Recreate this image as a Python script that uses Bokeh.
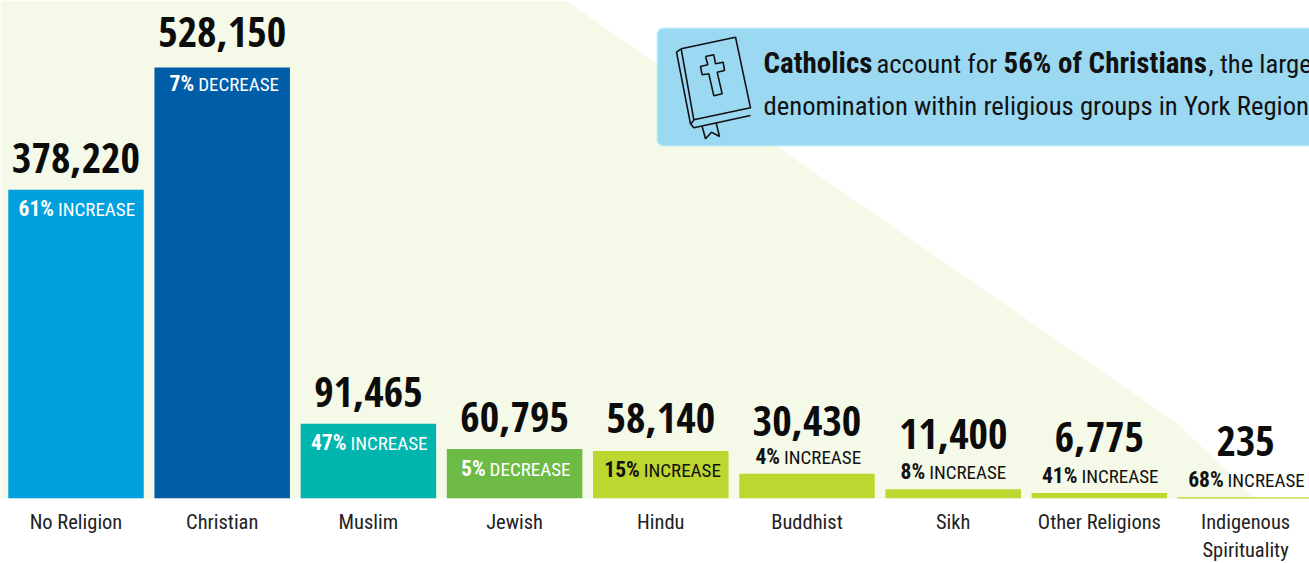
from bokeh.plotting import figure
from bokeh.models import ColumnDataSource, Range1d, FixedTicker, PolyAnnotation, BoxAnnotation
from bokeh.core.properties import value
from bokeh.embed import file_html
from bokeh.resources import INLINE

categories = ["No Religion", "Christian", "Muslim", "Jewish", "Hindu", "Buddhist", "Sikh", "Other Religions", "Indigenous\nSpirituality"]
counts = [378220, 528150, 91465, 60795, 58140, 30430, 11400, 6775, 235]
count_labels = ["378,220", "528,150", "91,465", "60,795", "58,140", "30,430", "11,400", "6,775", "235"]
pct_labels = ["61%", "7%", "47%", "5%", "15%", "4%", "8%", "41%", "68%"]
change_labels = ["INCREASE", "DECREASE", "INCREASE", "DECREASE", "INCREASE", "INCREASE", "INCREASE", "INCREASE", "INCREASE"]
bar_colors = ["#00a0df", "#005da8", "#00b5ad", "#6dbb45", "#bed630", "#bed630", "#bed630", "#bed630", "#bed630"]
note_line1 = ["Catholics", "account for", "56% of Christians", ", the largest"]
note_line2 = "denomination within religious groups in York Region"

# layout (pixels)
W, H = 1309, 563
BASE = 498
PITCH = 146.2
X0 = 75.5
UNITS = 528150 / 431
FONT = "Roboto Condensed"
BIG = "Open Sans Condensed"
def dx(px): return (px - X0) / PITCH
def dy(py): return (BASE - py) * UNITS
idx = list(range(len(categories)))
value_off = [17, 20, 17, 17, 18, 38, 40, 41, 42]
sub_off = [-26, -24, -26, -27, -26, 9, 10, 10, 11]
split_off = [-20, -26, -20, -27, -19, -25, -26, -20, -20]
sub_colors = ["#ffffff"] * 4 + ["#111111"] * 5
# the svg text sits about 0.36 em below the requested baseline
SHIFT = 0.36
VAL_PX, PCT_PX, CHG_PX, NB_PX, NR_PX = 42, 21.5, 19, 29, 26.7

p = figure(width=W, height=H, frame_width=W, frame_height=BASE, output_backend="svg", toolbar_location=None,
           x_range=Range1d(dx(0), dx(W)), y_range=Range1d(0, dy(0)),
           min_border_left=0, min_border_right=0, min_border_top=0, min_border_bottom=0,
           outline_line_color=None, background_fill_color="#ffffff", border_fill_color="#ffffff")
p.grid.visible = False
p.yaxis.visible = False
ax = p.xaxis[0]
ax.ticker = FixedTicker(ticks=idx)
ax.major_label_overrides = dict(zip(idx, categories))
ax.axis_line_color = None
ax.major_tick_line_color = None
ax.minor_tick_line_color = None
ax.major_label_text_font = FONT
ax.major_label_text_font_size = "20.5px"
ax.major_label_text_color = "#222222"
ax.major_label_standoff = 5

pale_x = [0, 565, 1177, 1260, 1287, 0]
pale_y = [0, 0, 423, 503, 563, 563]
pale = PolyAnnotation(xs=pale_x, ys=[BASE - v for v in pale_y],
                      xs_units="screen", ys_units="screen", fill_color="#f5f9e8", fill_alpha=1,
                      line_color=None, level="underlay")
p.add_layout(pale)

p.add_layout(BoxAnnotation(left=dx(657), right=dx(1330), top=dy(28), bottom=dy(145),
                           fill_color="#9bd8f2", fill_alpha=1, line_color="#8be2f6", line_width=2.5,
                           border_radius=6, level="underlay"))

src = ColumnDataSource(dict(x=idx, top=counts, color=bar_colors,
                            lw=[0] * 8 + [2], lab=count_labels, pct=pct_labels, chg=change_labels,
                            voff=[-v - SHIFT * VAL_PX for v in value_off],
                            poff=[-s - SHIFT * PCT_PX for s in sub_off],
                            coff=[-s - SHIFT * CHG_PX for s in sub_off], subc=sub_colors,
                            pctx=[s - 2 for s in split_off], chgx=[s + 2 for s in split_off]))
p.vbar(x="x", top="top", bottom=0, width=135.5 / PITCH, fill_color="color", line_color="color", line_width="lw", source=src)
p.text(x="x", y="top", text="lab", y_offset="voff", source=src, text_align="center", text_baseline="alphabetic",
       text_font=value(BIG), text_font_style="bold", text_font_size=f"{VAL_PX}px", text_color="#0c0c0c")
p.text(x="x", y="top", text="pct", x_offset="pctx", y_offset="poff", source=src, text_align="right", text_baseline="alphabetic",
       text_font=value(FONT), text_font_style="bold", text_font_size=f"{PCT_PX}px", text_color="subc")
p.text(x="x", y="top", text="chg", x_offset="chgx", y_offset="coff", source=src, text_align="left", text_baseline="alphabetic",
       text_font=value(FONT), text_font_size=f"{CHG_PX}px", text_color="subc")

# note text
nx = [763, 876, 1003, 1208]
ns = ["bold", "normal", "bold", "normal"]
nf = [NB_PX, NR_PX, NB_PX, NR_PX]
for t, x, s, f in zip(note_line1, nx, ns, nf):
    p.text(x=[dx(x)], y=[dy(73 - SHIFT * f)], text=[t], text_font=value(FONT), text_font_style=s, text_font_size=f"{f}px",
           text_color="#111111", text_baseline="alphabetic")
p.text(x=[dx(763)], y=[dy(115 - SHIFT * NR_PX)], text=[note_line2], text_font=value(FONT), text_font_size=f"{NR_PX}px",
       text_color="#111111", text_baseline="alphabetic")

# book icon (zoomed crop coordinates scaled back)
def ic(pts): return [dx(650 + a / 3) for a, b in pts], [dy(20 + b / 3) for a, b in pts]
paths = [
    [(92, 85), (255, 50), (300, 262), (130, 298), (92, 85)],
    [(92, 85), (78, 95), (120, 310), (130, 322), (300, 285)],
    [(130, 298), (122, 310)],
    [(165, 108), (190, 103), (195, 130), (218, 125), (222, 150), (200, 155), (215, 220), (190, 226), (175, 160), (155, 163), (150, 138), (172, 133), (165, 108)],
    [(155, 318), (165, 355), (183, 335), (207, 348), (197, 308)],
]
for path in paths:
    xs, ys = ic(path)
    p.line(xs, ys, line_color="#111111", line_width=1.6)

open("out.html", "w").write(file_html(p, INLINE))
